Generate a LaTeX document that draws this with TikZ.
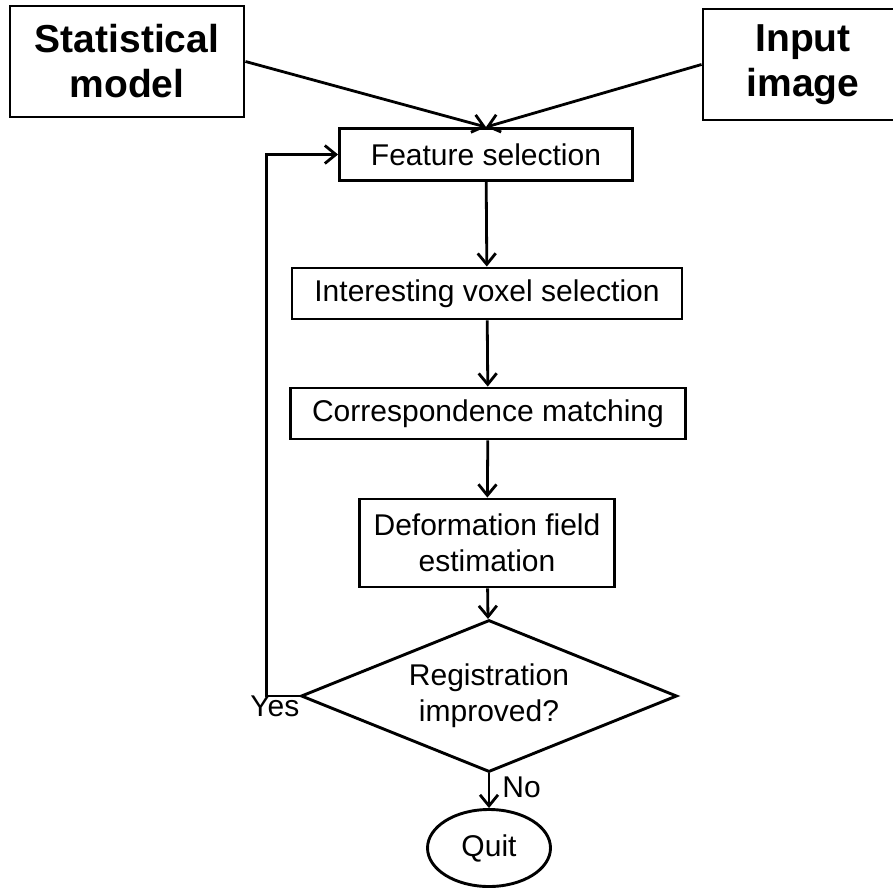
\documentclass[tikz,border=0pt]{standalone}
\usepackage{fontspec}
\setmainfont{Liberation Sans}
\usetikzlibrary{shapes.geometric}
\usetikzlibrary{arrows.meta}

\tikzset{
  stepbox/.style={draw, line width=2.9pt, inner sep=0pt, align=center,
    font=\fontsize{30}{36}\selectfont},
  srcbox/.style={draw, line width=2.9pt, inner sep=0pt, align=center,
    font=\fontsize{39}{45}\selectfont\bfseries,
    minimum width=234pt, minimum height=111pt},
  arr/.style={line width=2.8pt, -{Straight Barb[length=11pt,width=18pt]}},
}

\begin{document}
\begin{tikzpicture}[x=1pt, y=-1pt]
\useasboundingbox (0,0) rectangle (893,888);
% inputs
\node[srcbox] (stat) at (127,61.5) {Statistical\\model};
\node[srcbox, minimum width=200pt] (input) at (803,64.5) {Input\\image};
% registration loop
\node[stepbox, minimum width=293pt, minimum height=52pt] (feat) at (486,154.5) {Feature selection};
\node[stepbox, minimum width=390pt, minimum height=51pt] (voxel) at (487,293.5) {Interesting voxel selection};
\node[stepbox, minimum width=395pt, minimum height=51pt] (corr) at (488,413.5) {Correspondence matching};
\node[stepbox, minimum width=255pt, minimum height=88pt] (deform) at (487,543) {Deformation field\\estimation};
\node[stepbox, shape=diamond, aspect=2.47, minimum width=376pt, minimum height=152pt] (dec) at (489,696) {Registration\\improved?};
\node[stepbox, shape=ellipse, minimum width=123pt, minimum height=77pt] (quit) at (489,848) {Quit};

\draw[arr] (stat.east) -- (feat.north);
\draw[arr] (input.west) -- (feat.north);
\draw[arr] (feat) -- (voxel);
\draw[arr] (voxel) -- (corr);
\draw[arr] (corr) -- (deform);
\draw[arr] (deform) -- (dec);
\draw[arr] (dec) -- (quit) node[pos=0.4, right=12pt, inner sep=0pt, font=\fontsize{30}{36}\selectfont] {No};
\draw[arr] (dec.west) -- ++(-33,0) |- (feat.west);
\node[anchor=north east, inner sep=0pt, font=\fontsize{30}{36}\selectfont] (yes) at (dec.west) {Yes};
\end{tikzpicture}
\end{document}
